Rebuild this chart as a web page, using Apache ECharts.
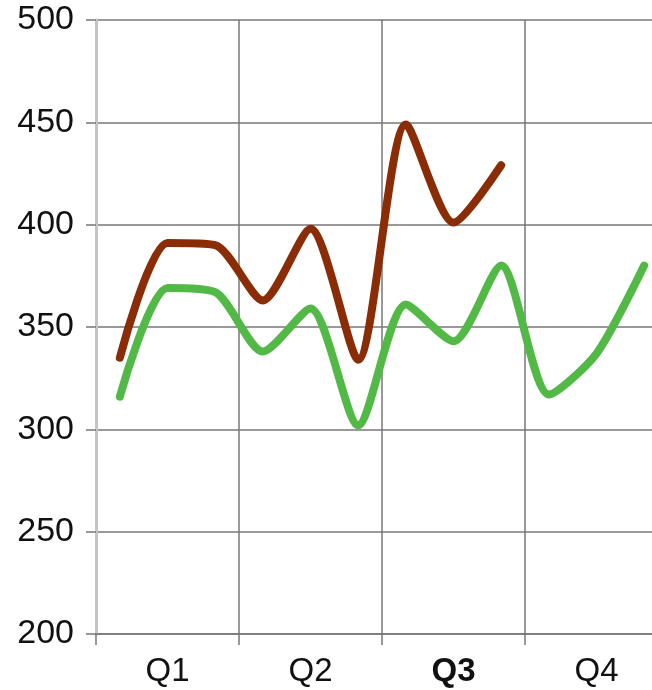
<!DOCTYPE html>
<html>
<head>
<meta charset="utf-8">
<script src="https://cdn.jsdelivr.net/npm/echarts@6/dist/echarts.min.js"></script>
<style>html,body{margin:0;padding:0;background:#fff}#c{width:652px;height:690px}</style>
</head>
<body>
<div id="c"></div>
<script>
const quarters = ['Q1', 'Q2', 'Q3', 'Q4'];
const boldQuarter = 'Q3';
const months = ['Jan', 'Feb', 'Mar', 'Apr', 'May', 'Jun', 'Jul', 'Aug', 'Sep', 'Oct', 'Nov', 'Dec'];
const brownSeries = [335, 391, 390, 363, 398, 334, 449, 401, 429];
const greenSeries = [316, 369, 367, 338, 359, 302, 361, 343, 380, 317, 337, 380];
const yMin = 200, yMax = 500, yStep = 50;

const chart = echarts.init(document.getElementById('c'), null, {renderer: 'canvas'});
const font = '"Liberation Sans", Arial, sans-serif';
const gridColor = '#777';

chart.setOption({
  animation: false,
  backgroundColor: '#fff',
  grid: {left: 96, width: 572, top: 20, height: 614, containLabel: false, outerBoundsMode: 'none'},
  xAxis: [
    {
      type: 'category',
      data: quarters.map(q => q === boldQuarter ? {value: q, textStyle: {fontWeight: 'bold'}} : q),
      boundaryGap: true,
      axisLine: {show: true, lineStyle: {color: gridColor, width: 1.5}},
      axisTick: {show: true, length: 11, lineStyle: {color: gridColor, width: 1.5}},
      axisLabel: {color: '#111', fontSize: 33, fontFamily: font, margin: 21},
      splitLine: {show: true, lineStyle: {color: gridColor, width: 1.5}}
    },
    {
      type: 'category',
      data: months,
      boundaryGap: true,
      show: false,
      position: 'bottom'
    }
  ],
  yAxis: {
    type: 'value',
    min: yMin, max: yMax, interval: yStep,
    axisLine: {show: true, lineStyle: {color: '#c4c4c4', width: 3}},
    axisTick: {show: true, length: 10, lineStyle: {color: gridColor, width: 1.5}},
    axisLabel: {color: '#111', fontSize: 34, fontFamily: font, margin: 22},
    splitLine: {show: true, lineStyle: {color: gridColor, width: 1.5}}
  },
  series: [
    {
      type: 'line', xAxisIndex: 1, data: greenSeries, smooth: 0.25, symbol: 'none',
      lineStyle: {color: '#52b947', width: 8, cap: 'round', join: 'round'}
    },
    {
      type: 'line', xAxisIndex: 1, data: brownSeries, smooth: 0.25, symbol: 'none',
      lineStyle: {color: '#8a2c05', width: 8, cap: 'round', join: 'round'}
    }
  ]
});
</script>
</body>
</html>
